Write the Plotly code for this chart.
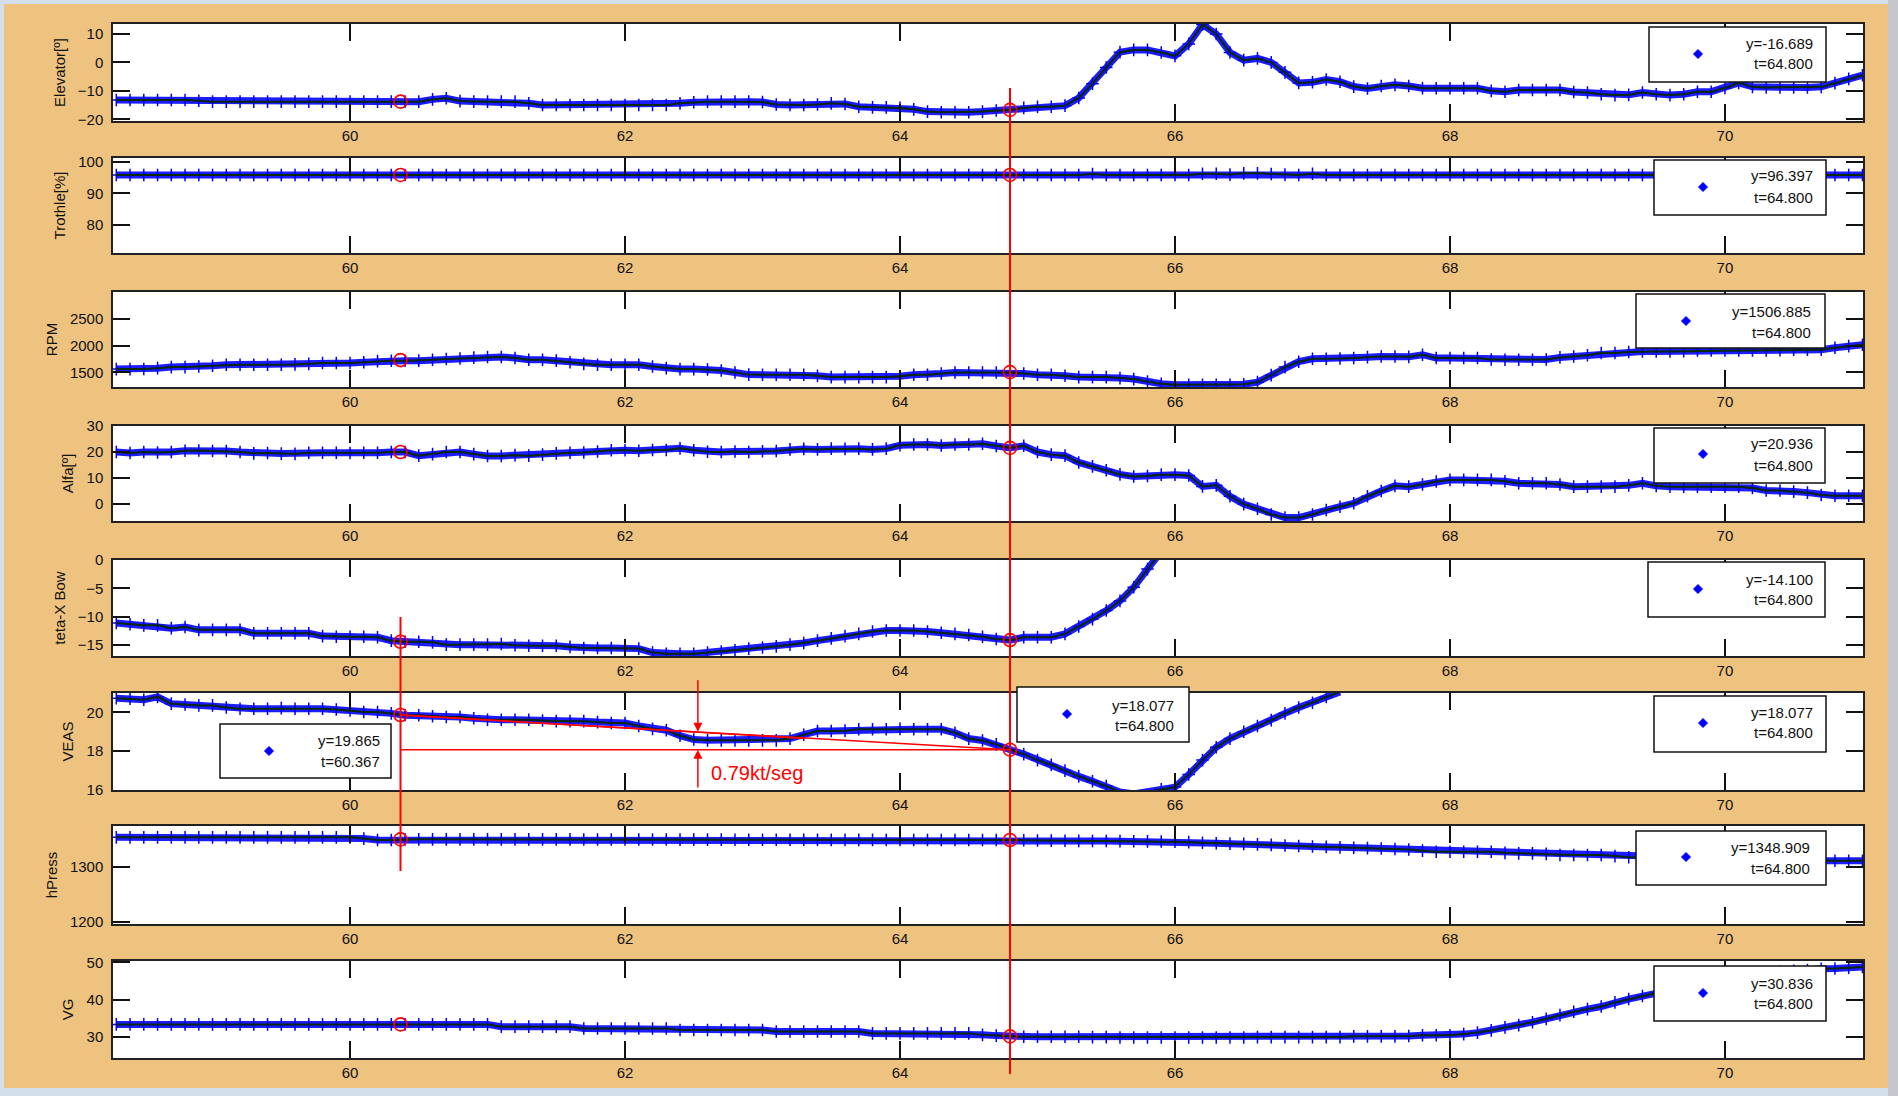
import plotly.graph_objects as go

# ---------------- data ----------------
T = [round(58.3 + 0.1 * i, 1) for i in range(128)]  # sample times 58.3 .. 71.0 s

ELEVATOR = [
    -13.2, -13.2, -13.2, -13.2, -13.2, -13.2, -13.5, -13.8, -13.8, -13.8,
    -13.8, -13.8, -13.8, -13.8, -13.8, -13.8, -13.8, -13.8, -13.8, -13.8,
    -13.8, -13.8, -13.8, -13.0, -12.6, -13.6, -13.8, -13.8, -13.8, -13.8,
    -14.4, -15.0, -15.0, -15.0, -15.0, -15.0, -15.0, -15.0, -15.0, -15.0,
    -15.0, -14.4, -14.0, -13.8, -13.8, -13.8, -13.8, -13.9, -14.8, -15.0,
    -15.0, -14.8, -14.4, -14.6, -15.6, -15.8, -15.8, -16.0, -16.5, -17.3,
    -17.5, -17.5, -17.5, -17.3, -16.9, -16.7, -16.0, -15.6, -15.6, -15.2,
    -12.5, -7.5, -1.8, 3.6, 4.4, 4.4, 3.5, 2.3, 6.5, 13.3,
    10.0, 3.5, 0.8, 1.4, 0.0, -3.5, -7.2, -7.0, -6.0, -6.8,
    -8.5, -9.2, -8.3, -7.9, -8.3, -9.1, -9.1, -9.1, -9.1, -9.1,
    -10.0, -10.3, -9.7, -9.7, -9.7, -9.7, -10.4, -10.6, -11.2, -11.5,
    -11.4, -10.6, -11.2, -11.5, -11.2, -10.3, -10.3, -9.0, -7.2, -8.6,
    -8.8, -8.8, -8.8, -8.8, -8.6, -7.3, -5.8, -4.5,
]

THROTTLE = [
    95.9, 95.9, 95.9, 95.9, 95.9, 95.9, 95.9, 95.9, 95.9, 95.9,
    95.9, 95.9, 95.9, 95.9, 95.9, 95.9, 95.9, 95.9, 95.9, 95.9,
    95.9, 95.9, 95.9, 95.9, 95.9, 95.9, 95.9, 95.9, 95.9, 95.9,
    95.9, 95.9, 95.9, 95.9, 95.9, 95.9, 95.9, 95.9, 95.9, 95.9,
    95.9, 95.9, 95.9, 95.9, 95.9, 95.9, 95.9, 95.9, 95.9, 95.9,
    95.9, 95.9, 95.9, 95.9, 95.9, 95.9, 95.9, 95.9, 95.9, 95.9,
    95.9, 95.9, 95.9, 95.9, 95.9, 95.9, 95.9, 95.9, 95.9, 95.9,
    95.9, 96.2, 95.9, 95.9, 95.9, 95.9, 95.9, 95.9, 95.9, 96.3,
    96.3, 96.0, 96.4, 96.4, 96.2, 96.0, 95.9, 96.3, 95.9, 95.9,
    95.9, 95.9, 95.9, 95.9, 95.9, 95.9, 95.9, 95.9, 95.9, 95.9,
    95.9, 95.9, 95.9, 95.9, 95.9, 95.9, 95.9, 95.9, 95.9, 95.9,
    95.9, 95.9, 95.9, 95.9, 95.9, 95.9, 95.9, 95.9, 95.9, 95.9,
    95.9, 95.9, 95.9, 95.9, 95.9, 95.9, 95.9, 95.9,
]

RPM = [
    1563, 1563, 1565, 1580, 1600, 1600, 1610, 1625, 1643, 1643,
    1643, 1643, 1643, 1650, 1660, 1675, 1675, 1675, 1690, 1710,
    1718, 1718, 1720, 1735, 1750, 1760, 1775, 1787, 1787, 1770,
    1737, 1737, 1720, 1690, 1660, 1643, 1643, 1643, 1643, 1610,
    1580, 1563, 1563, 1555, 1537, 1500, 1460, 1457, 1457, 1457,
    1457, 1440, 1414, 1414, 1414, 1414, 1414, 1430, 1457, 1457,
    1480, 1500, 1500, 1500, 1500, 1500, 1480, 1457, 1457, 1440,
    1414, 1414, 1414, 1395, 1377, 1330, 1290, 1271, 1271, 1271,
    1271, 1271, 1280, 1320, 1450, 1600, 1700, 1755, 1755, 1760,
    1770, 1785, 1798, 1798, 1790, 1830, 1768, 1768, 1768, 1768,
    1740, 1737, 1737, 1737, 1740, 1780, 1798, 1820, 1861, 1861,
    1880, 1891, 1891, 1891, 1895, 1910, 1910, 1910, 1910, 1910,
    1910, 1915, 1923, 1923, 1923, 1960, 1990, 2016,
]

ALFA = [
    20.0, 19.6, 20.0, 19.8, 20.0, 20.5, 20.6, 20.4, 20.4, 20.0,
    19.5, 19.6, 19.4, 19.3, 19.7, 19.7, 19.7, 19.6, 19.7, 19.7,
    20.0, 20.0, 18.6, 19.2, 20.0, 20.0, 19.2, 18.5, 18.5, 18.8,
    18.6, 19.0, 19.5, 19.7, 19.8, 20.2, 20.7, 20.7, 20.5, 20.8,
    20.8, 21.4, 20.7, 20.1, 20.0, 20.2, 20.0, 20.3, 20.4, 21.0,
    21.2, 21.0, 21.3, 21.2, 21.3, 21.0, 21.3, 22.6, 22.9, 22.9,
    22.5, 22.9, 22.9, 23.2, 22.3, 21.6, 22.4, 20.0, 19.0, 18.6,
    16.0, 14.5, 13.0, 11.4, 10.6, 10.8, 11.3, 11.3, 11.0, 6.8,
    7.2, 3.0, 0.0, -1.8, -4.0, -5.2, -5.2, -4.0, -2.3, -1.0,
    0.3, 3.0, 5.0, 7.0, 6.7, 7.5, 8.7, 9.3, 9.3, 9.3,
    9.3, 8.8, 8.0, 8.0, 8.0, 7.5, 6.7, 6.7, 6.7, 6.7,
    7.2, 8.0, 7.0, 6.7, 6.7, 6.7, 6.7, 6.7, 6.7, 6.2,
    5.2, 5.2, 4.8, 4.4, 3.5, 3.2, 3.2, 3.2,
]

TETA_XBOW = [
    -11.1, -11.3, -11.5, -11.5, -12.0, -11.8, -12.3, -12.3, -12.3, -12.3,
    -12.9, -12.9, -12.9, -12.9, -12.9, -13.4, -13.5, -13.5, -13.5, -13.6,
    -14.2, -14.4, -14.4, -14.5, -14.9, -14.9, -14.9, -14.9, -14.8, -15.0,
    -15.1, -15.1, -15.1, -15.3, -15.5, -15.5, -15.5, -15.5, -15.6, -16.3,
    -16.5, -16.5, -16.5, -16.3, -16.1, -15.9, -15.6, -15.4, -15.2, -14.9,
    -14.6, -14.2, -13.8, -13.4, -13.0, -12.6, -12.4, -12.4, -12.4, -12.6,
    -12.8, -13.0, -13.2, -13.5, -13.9, -14.1, -13.6, -13.6, -13.6, -13.0,
    -11.7, -10.4, -8.9, -7.2, -4.8, -1.6, 1.5, None, None, None,
    None, None, None, None, None, None, None, None, None, None,
    None, None, None, None, None, None, None, None, None, None,
    None, None, None, None, None, None, None, None, None, None,
    None, None, None, None, None, None, None, None, None, None,
    None, None, None, None, None, None, None, None,
]

VEAS = [
    20.73, 20.70, 20.65, 20.80, 20.45, 20.41, 20.36, 20.36, 20.25, 20.19,
    20.19, 20.19, 20.22, 20.19, 20.19, 20.19, 20.15, 20.10, 20.02, 20.02,
    19.95, 19.85, 19.85, 19.80, 19.76, 19.76, 19.70, 19.62, 19.62, 19.62,
    19.62, 19.58, 19.55, 19.55, 19.55, 19.50, 19.45, 19.45, 19.30, 19.15,
    19.08, 18.80, 18.60, 18.56, 18.56, 18.56, 18.56, 18.56, 18.56, 18.65,
    18.85, 19.04, 19.04, 19.06, 19.13, 19.13, 19.13, 19.15, 19.13, 19.13,
    19.13, 18.95, 18.65, 18.55, 18.35, 18.08, 17.85, 17.54, 17.30, 17.00,
    16.70, 16.45, 16.20, 15.90, 15.80, 15.90, 16.04, 16.15, 16.80, 17.54,
    18.20, 18.65, 19.00, 19.30, 19.60, 19.95, 20.25, 20.50, 20.80, 21.05,
    None, None, None, None, None, None, None, None, None, None,
    None, None, None, None, None, None, None, None, None, None,
    None, None, None, None, None, None, None, None, None, None,
    None, None, None, None, None, None, None, None,
]

HPRESS = [
    1354.3, 1354.3, 1354.3, 1354.3, 1354.3, 1354.3, 1354.3, 1354.3, 1354.3, 1354.3,
    1354.3, 1354.3, 1354.3, 1354.3, 1354.3, 1354.3, 1354.3, 1354.3, 1352.0, 1349.5,
    1349.5, 1350.6, 1350.6, 1350.6, 1350.6, 1350.6, 1350.6, 1350.6, 1350.6, 1350.6,
    1350.5, 1350.5, 1350.5, 1350.5, 1350.4, 1350.4, 1350.4, 1350.4, 1350.3, 1350.3,
    1350.3, 1350.2, 1350.2, 1350.1, 1350.1, 1350.0, 1350.0, 1350.0, 1349.9, 1349.9,
    1349.8, 1349.8, 1349.7, 1349.7, 1349.6, 1349.6, 1349.5, 1349.5, 1349.5, 1349.4,
    1349.4, 1349.4, 1349.4, 1349.4, 1349.4, 1349.4, 1349.0, 1348.5, 1348.2, 1348.0,
    1347.8, 1347.5, 1347.5, 1347.3, 1347.2, 1347.0, 1346.8, 1346.5, 1345.5, 1344.5,
    1343.5, 1342.8, 1342.4, 1341.5, 1340.5, 1339.5, 1338.5, 1337.6, 1336.8, 1336.0,
    1335.3, 1334.5, 1333.8, 1333.0, 1332.0, 1330.0, 1328.0, 1328.0, 1328.0, 1328.0,
    1328.0, 1326.0, 1325.0, 1325.0, 1324.0, 1322.0, 1322.0, 1322.0, 1322.0, 1320.0,
    1318.0, 1317.5, 1317.0, 1316.5, 1316.0, 1315.5, 1315.0, 1314.5, 1314.0, 1313.5,
    1313.0, 1312.5, 1312.0, 1311.8, 1311.5, 1311.5, 1311.5, 1311.5,
]

VG = [
    33.4, 33.4, 33.4, 33.4, 33.4, 33.4, 33.4, 33.4, 33.4, 33.4,
    33.4, 33.4, 33.4, 33.4, 33.4, 33.4, 33.4, 33.4, 33.4, 33.4,
    33.4, 33.4, 33.4, 33.4, 33.4, 33.4, 33.4, 33.4, 32.8, 32.8,
    32.8, 32.8, 32.8, 32.8, 32.3, 32.3, 32.3, 32.3, 32.3, 32.3,
    32.3, 31.9, 31.9, 31.9, 31.9, 31.9, 31.9, 31.9, 31.5, 31.5,
    31.5, 31.5, 31.5, 31.5, 31.5, 31.0, 31.0, 31.0, 31.0, 31.0,
    31.0, 31.0, 31.0, 30.6, 30.4, 30.2, 30.1, 30.1, 30.1, 30.1,
    30.1, 30.0, 30.0, 29.9, 29.9, 29.9, 29.9, 29.9, 29.9, 29.9,
    29.9, 29.9, 29.9, 30.0, 30.0, 30.0, 30.0, 30.0, 30.0, 30.0,
    30.2, 30.2, 30.2, 30.2, 30.3, 30.5, 30.5, 30.5, 30.8, 31.2,
    31.8, 32.6, 33.2, 34.0, 34.9, 35.9, 36.8, 37.5, 38.2, 39.3,
    40.2, 41.0, 41.8, 42.6, 43.4, 44.2, 45.0, 45.6, 46.2, 46.7,
    47.1, 47.5, 47.8, 48.0, 48.3, 48.4, 48.6, 48.8,
]

# cursor positions and cursor values per channel
CURSOR_T = [60.367, 64.8]
CURSOR_VALUES = [
    [-13.8, -16.689],
    [95.9, 95.9],
    [1730, 1506.885],
    [20.0, 21.6],
    [-14.4, -14.1],
    [19.865, 18.077],
    [1350.6, 1349.4],
    [33.4, 30.2],
]

SERIES = [ELEVATOR, THROTTLE, RPM, ALFA, TETA_XBOW, VEAS, HPRESS, VG]
Y_TITLES = ["Elevator[º]", "Trothle[%]", "RPM", "Alfa[º]", "teta-X Bow", "VEAS", "hPress", "VG"]
Y_RANGES = [[-20.6, 13.5], [71.0, 101.3], [1230, 2995], [-6.5, 30.0],
            [-16.9, 0.0], [16.0, 21.0], [1196, 1375], [24.4, 50.4]]
Y_TICKS = [[-20, -10, 0, 10], [80, 90, 100], [1500, 2000, 2500], [0, 10, 20, 30],
           [-15, -10, -5, 0], [16, 18, 20], [1200, 1300], [30, 40, 50]]
X_TICKS = [60, 62, 64, 66, 68, 70]
X_RANGE = [58.276, 71.004]

# data-tip texts (right-hand boxes, one per panel)
TIP_Y_TEXT = ["y=-16.689", "y=96.397", "y=1506.885", "y=20.936",
              "y=-14.100", "y=18.077", "y=1348.909", "y=30.836"]
TIP_T_TEXT = ["t=64.800"] * 8

# VEAS slope construction
SLOPE_T = [60.367, 64.8]
SLOPE_V = [19.865, 18.077]
TANGENT_T = [60.367, 63.3]
TANGENT_V = [19.865, 18.66]
LEVEL_T = [60.367, 64.8]
LEVEL_V = [18.077, 18.077]
ARROW_T = 62.53
ARROW_DOWN = [21.73, 19.0]
ARROW_UP = [16.05, 18.077]
SLOPE_LABEL = "0.79kt/seg"

# ---------------- layout helpers (pixels -> paper) ----------------
W, H = 1898, 1096
L, R, TOP, BOT = 113, 1863, 24, 1058


def px(x):
    return (x - L) / (R - L)


def py(y):
    return (BOT - y) / (BOT - TOP)


PANELS = [(24, 121), (158, 253), (292, 387), (426, 521),
          (560, 656), (693, 790), (826, 924), (961, 1058)]

FONT = "Liberation Sans, Arial, sans-serif"
BLUE = "#0000FF"
RED = "#FF0000"

fig = go.Figure()
layout = dict(
    width=W, height=H,
    margin=dict(l=L, r=W - R, t=TOP, b=H - BOT),
    paper_bgcolor="#D4DFEC",
    plot_bgcolor="#FFFFFF",
    showlegend=False,
    font=dict(family=FONT, size=15, color="#000000"),
)

shapes = []
annotations = []

# background panel (tan) and white plot areas
shapes.append(dict(type="rect", xref="paper", yref="paper", layer="below",
                   x0=px(1888), x1=px(1898), y0=py(1096), y1=py(0),
                   fillcolor="#C6C7CC", line=dict(width=0)))
shapes.append(dict(type="rect", xref="paper", yref="paper", layer="below",
                   x0=px(4), x1=px(1888), y0=py(1088), y1=py(4),
                   fillcolor="#EEC27F", line=dict(width=0)))

for k, (top, bot) in enumerate(PANELS, start=1):
    sfx = "" if k == 1 else str(k)
    shapes.append(dict(type="rect", xref="paper", yref="paper", layer="below",
                       x0=0, x1=1, y0=py(bot), y1=py(top),
                       fillcolor="#FFFFFF", line=dict(width=0)))
    layout["xaxis" + sfx] = dict(
        domain=[0, 1], anchor="y" + sfx, range=X_RANGE,
        tickmode="array", tickvals=X_TICKS, ticks="inside", ticklen=17,
        tickwidth=1.5, tickcolor="#111111", mirror="ticks", showline=True,
        linecolor="#222222", linewidth=1.5, showgrid=False, zeroline=False,
        ticklabelstandoff=0, tickfont=dict(size=15, family=FONT, color="#111111"),
    )
    layout["yaxis" + sfx] = dict(
        domain=[py(bot), py(top)], anchor="x" + sfx, range=Y_RANGES[k - 1],
        tickmode="array", tickvals=Y_TICKS[k - 1], ticks="inside", ticklen=17,
        tickwidth=1.5, tickcolor="#111111", mirror="ticks", showline=True,
        linecolor="#222222", linewidth=1.5, showgrid=False, zeroline=False,
        ticklabelstandoff=5, tickfont=dict(size=15, family=FONT, color="#111111"),
        title=dict(text=Y_TITLES[k - 1], standoff=9,
                   font=dict(size=15, family=FONT, color="#111111")),
    )

# data traces
for k, vals in enumerate(SERIES, start=1):
    xa = "x" if k == 1 else f"x{k}"
    ya = "y" if k == 1 else f"y{k}"
    fig.add_trace(go.Scatter(x=T, y=vals, mode="lines", xaxis=xa, yaxis=ya,
                             line=dict(color="#1C1CFF", width=7),
                             hoverinfo="skip", connectgaps=False))
    fig.add_trace(go.Scatter(x=T, y=vals, mode="markers", xaxis=xa, yaxis=ya,
                             marker=dict(symbol="cross-thin", size=9, color=BLUE,
                                         line=dict(color=BLUE, width=1.5)),
                             hoverinfo="skip"))
    fig.add_trace(go.Scatter(x=T, y=vals, mode="lines", xaxis=xa, yaxis=ya,
                             line=dict(color="#082808", width=2),
                             hoverinfo="skip", connectgaps=False))

# VEAS slope lines
for xs, ys in [(SLOPE_T, SLOPE_V), (TANGENT_T, TANGENT_V), (LEVEL_T, LEVEL_V)]:
    fig.add_trace(go.Scatter(x=xs, y=ys, mode="lines", xaxis="x6", yaxis="y6",
                             line=dict(color=RED, width=1.5), hoverinfo="skip"))

# cursor circles
for k, cv in enumerate(CURSOR_VALUES, start=1):
    xa = "x" if k == 1 else f"x{k}"
    ya = "y" if k == 1 else f"y{k}"
    fig.add_trace(go.Scatter(x=CURSOR_T, y=cv, mode="markers", xaxis=xa, yaxis=ya,
                             marker=dict(symbol="circle-open", size=13, color=RED,
                                         line=dict(color=RED, width=1.6)),
                             cliponaxis=False, hoverinfo="skip"))

# cursor vertical lines
shapes.append(dict(type="line", xref="x", yref="paper",
                   x0=CURSOR_T[1], x1=CURSOR_T[1], y0=py(1074), y1=py(88),
                   line=dict(color=RED, width=2)))
shapes.append(dict(type="line", xref="x", yref="paper",
                   x0=CURSOR_T[0], x1=CURSOR_T[0], y0=py(871), y1=py(617),
                   line=dict(color=RED, width=2)))

# slope arrows and label
annotations.append(dict(xref="x6", yref="y6", axref="x6", ayref="y6",
                        x=ARROW_T, y=ARROW_DOWN[1], ax=ARROW_T, ay=ARROW_DOWN[0],
                        text="", showarrow=True, arrowhead=2, arrowsize=1.2,
                        arrowwidth=1.5, arrowcolor=RED))
annotations.append(dict(xref="x6", yref="y6", axref="x6", ayref="y6",
                        x=ARROW_T, y=ARROW_UP[1], ax=ARROW_T, ay=ARROW_UP[0],
                        text="", showarrow=True, arrowhead=2, arrowsize=1.2,
                        arrowwidth=1.5, arrowcolor=RED))
annotations.append(dict(xref="x6", yref="y6", x=62.61, y=16.86, text=SLOPE_LABEL,
                        showarrow=False, xanchor="left", yanchor="middle",
                        font=dict(size=20, family=FONT, color=RED)))

# data tip boxes (pixel layout): x0, x1, y0, y1, diamond x, diamond y, text right, line1 y, line2 y
TIP_BOXES = [
    (1649, 1826, 27, 82, 1698, 54, 1815, 43, 64),
    (1654, 1826, 160, 215, 1703, 187, 1815, 176, 197),
    (1636, 1825, 294, 348, 1686, 321, 1813, 311, 332),
    (1654, 1825, 428, 483, 1703, 454, 1815, 444, 465),
    (1648, 1825, 562, 617, 1698, 589, 1815, 579, 599),
    (1654, 1826, 696, 752, 1703, 723, 1815, 713, 733),
    (1636, 1826, 831, 885, 1686, 857, 1812, 847, 868),
    (1654, 1826, 966, 1021, 1703, 993, 1815, 983, 1003),
]
EXTRA_TIPS = [
    ((220, 391, 724, 778, 269, 751, 382, 740, 761), "y=19.865", "t=60.367"),
    ((1017, 1189, 687, 742, 1067, 714, 1176, 705, 725), "y=18.077", "t=64.800"),
]

all_tips = [(b, TIP_Y_TEXT[i], TIP_T_TEXT[i]) for i, b in enumerate(TIP_BOXES)] + EXTRA_TIPS
for (x0, x1, y0, y1, dx, dy, tr, l1, l2), t1, t2 in all_tips:
    shapes.append(dict(type="rect", xref="paper", yref="paper",
                       x0=px(x0), x1=px(x1), y0=py(y1), y1=py(y0),
                       fillcolor="#FFFFFF", line=dict(color="#111111", width=1.5)))
    s = 4.5
    path = (f"M {px(dx - s)},{py(dy)} L {px(dx)},{py(dy - s)} "
            f"L {px(dx + s)},{py(dy)} L {px(dx)},{py(dy + s)} Z")
    shapes.append(dict(type="path", xref="paper", yref="paper", path=path,
                       fillcolor=BLUE, line=dict(color=BLUE, width=1)))
    for txt, ly in [(t1, l1), (t2, l2)]:
        annotations.append(dict(xref="paper", yref="paper", x=px(tr), y=py(ly),
                                text=txt, showarrow=False, xanchor="right",
                                yanchor="middle",
                                font=dict(size=15, family=FONT, color="#111111")))

layout["shapes"] = shapes
layout["annotations"] = annotations
fig.update_layout(**layout)

# the page body has a default 8px margin; remove it so the figure fills the window
fig.write_html("out.html", config={"displayModeBar": False},
               post_script="document.body.style.margin='0px';")
